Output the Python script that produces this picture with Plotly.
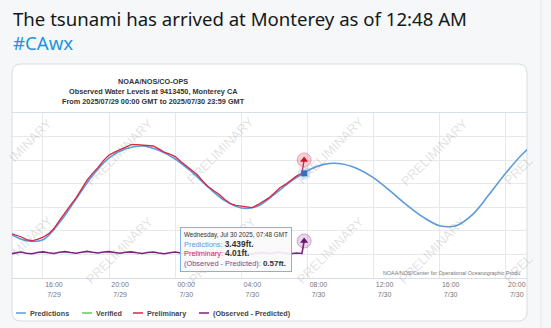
import plotly.graph_objects as go
import pandas as pd

# ---------------- data ----------------
pred_times = pd.date_range("2025-07-29 14:00", "2025-07-30 23:00", freq="1h")
pred_ft = [0.88, 0.58, 0.62, 1.35, 2.35, 3.35, 4.10, 4.48, 4.60, 4.42, 4.05, 3.50,
           2.85, 2.28, 1.97, 2.05, 2.55, 3.10, 3.55, 3.82, 3.85, 3.65, 3.25, 2.70,
           2.10, 1.58, 1.22, 1.22, 1.70, 2.55, 3.45, 4.25, 4.85, 5.20]

obs_times = pd.date_range("2025-07-29 14:00", periods=54, freq="20min").append(
    pd.DatetimeIndex(["2025-07-30 07:48"]))
prelim_ft = [0.90, 0.82, 0.75, 0.63, 0.58, 0.64, 0.73, 0.87, 1.10, 1.44, 1.79, 2.09,
             2.40, 2.78, 3.15, 3.44, 3.69, 3.99, 4.22, 4.34, 4.44, 4.57, 4.66, 4.66,
             4.64, 4.64, 4.60, 4.48, 4.34, 4.26, 4.15, 3.94, 3.74, 3.58, 3.38, 3.11,
             2.87, 2.70, 2.54, 2.33, 2.16, 2.08, 2.05, 1.99, 1.99, 2.11, 2.27, 2.40,
             2.61, 2.83, 2.97, 3.13, 3.32, 3.44, 4.01]
resid_ft = [0.02, 0.06, 0.10, 0.05, 0.03, 0.08, 0.11, 0.07, 0.04, 0.09, 0.12, 0.08,
            0.05, 0.09, 0.13, 0.09, 0.06, 0.10, 0.12, 0.08, 0.05, 0.09, 0.11, 0.07,
            0.04, 0.08, 0.10, 0.06, 0.03, 0.07, 0.10, 0.06, 0.04, 0.08, 0.10, 0.05,
            0.02, 0.06, 0.09, 0.05, 0.02, 0.05, 0.08, 0.04, 0.02, 0.06, 0.08, 0.04,
            0.06, 0.09, 0.05, 0.03, 0.06, 0.04, 0.57]

hover_time = "2025-07-30 07:48"
hover_pred = 3.439

tick_vals = ["2025-07-29 16:00", "2025-07-29 20:00", "2025-07-30 00:00", "2025-07-30 04:00",
             "2025-07-30 08:00", "2025-07-30 12:00", "2025-07-30 16:00", "2025-07-30 20:00"]
tick_text = ["16:00<br>7/29", "20:00<br>7/29", "00:00<br>7/30", "04:00<br>7/30",
             "08:00<br>7/30", "12:00<br>7/30", "16:00<br>7/30", "20:00<br>7/30"]

series_names = ["Predictions", "Verified", "Preliminary", "(Observed - Predicted)"]
series_colors = ["#5b9bd9", "#5ccf5c", "#d9243f", "#7d2181"]

# ---------------- layout helpers ----------------
W, H = 551, 328
ML, MR, MT, MB = 12, 24, 113, 50
PW, PH = W - ML - MR, H - MT - MB


def px(x):
    return (x - ML) / PW


def py(y):
    return 1 - (y - MT) / PH


fig = go.Figure()

# traces
fig.add_trace(go.Scatter(x=pred_times, y=pred_ft, mode="lines", name=series_names[0],
                         line=dict(color=series_colors[0], width=1.6, shape="spline", smoothing=1.0)))
fig.add_trace(go.Scatter(x=obs_times, y=resid_ft, mode="lines", name=series_names[3],
                         line=dict(color=series_colors[3], width=1.6)))
fig.add_trace(go.Scatter(x=obs_times, y=prelim_ft, mode="lines", name=series_names[2],
                         line=dict(color=series_colors[2], width=1.3)))

# hover halos + markers
fig.add_trace(go.Scatter(x=[hover_time], y=[hover_pred], mode="markers",
                         marker=dict(size=13, color="rgba(91,155,217,0.22)"), showlegend=False))
fig.add_trace(go.Scatter(x=[hover_time], y=[prelim_ft[-1]], mode="markers",
                         marker=dict(size=14, color="rgba(217,36,63,0.22)",
                                     line=dict(color="rgba(217,36,63,0.35)", width=1)), showlegend=False))
fig.add_trace(go.Scatter(x=[hover_time], y=[resid_ft[-1]], mode="markers",
                         marker=dict(size=14, color="rgba(125,33,129,0.18)",
                                     line=dict(color="rgba(125,33,129,0.35)", width=1)), showlegend=False))
fig.add_trace(go.Scatter(x=[hover_time], y=[hover_pred], mode="markers",
                         marker=dict(size=6, symbol="square", color="#2f6fc4"), showlegend=False))
fig.add_trace(go.Scatter(x=[hover_time], y=[prelim_ft[-1]], mode="markers",
                         marker=dict(size=7, symbol="triangle-up", color="#c4152f"), showlegend=False))
fig.add_trace(go.Scatter(x=[hover_time], y=[resid_ft[-1]], mode="markers",
                         marker=dict(size=7, symbol="triangle-up", color="#6a1470"), showlegend=False))

shapes = []
# card
x0, y0, x1, y1, r = 12, 64, 527, 321, 9
path = (f"M {px(x0+r)},{py(y0)} L {px(x1-r)},{py(y0)} Q {px(x1)},{py(y0)} {px(x1)},{py(y0+r)} "
        f"L {px(x1)},{py(y1-r)} Q {px(x1)},{py(y1)} {px(x1-r)},{py(y1)} "
        f"L {px(x0+r)},{py(y1)} Q {px(x0)},{py(y1)} {px(x0)},{py(y1-r)} "
        f"L {px(x0)},{py(y0+r)} Q {px(x0)},{py(y0)} {px(x0+r)},{py(y0)} Z")
shapes.append(dict(type="path", path=path, xref="paper", yref="paper", layer="below",
                   fillcolor="white", line=dict(color="#d6dde3", width=1)))
# right divider of the page
shapes.append(dict(type="line", xref="paper", yref="paper", x0=px(541), x1=px(541), y0=py(0), y1=py(328),
                   line=dict(color="#e3e7ea", width=1), layer="below"))

annotations = []
# watermark
wm_font = dict(family="Liberation Sans", size=13, color="rgba(120,120,120,0.22)")
wm = [("IMINARY", 30, 140), ("PRELIMINARY", 119, 152), ("PRELIMINARY", 220, 150),
      ("PRELIMINARY", 330, 150), ("PRELIMINARY", 434, 152), ("PREL", 518, 170),
      ("MINARY", 32, 236), ("PRELIMINARY", 119, 250), ("PRELIMINARY", 222, 250),
      ("PRELIMINARY", 330, 250), ("PRELIMINARY", 432, 250), ("PREL", 518, 268)]
for t, x, y in wm:
    annotations.append(dict(text=t, x=px(x), y=py(y), xref="paper", yref="paper", showarrow=False,
                            textangle=-45, font=wm_font, xanchor="center", yanchor="middle"))

# tweet text
annotations.append(dict(text="The tsunami has arrived at Monterey as of 12:48 AM", x=px(11), y=py(18),
                        xref="paper", yref="paper", showarrow=False, xanchor="left", yanchor="middle",
                        font=dict(family="Noto Sans", size=18.6, color="#14171a")))
annotations.append(dict(text="#CAwx", x=px(11), y=py(43), xref="paper", yref="paper", showarrow=False,
                        xanchor="left", yanchor="middle",
                        font=dict(family="Noto Sans", size=18.6, color="#1b95e0")))

# chart title
title_lines = ["NOAA/NOS/CO-OPS", "Observed Water Levels at 9413450, Monterey CA",
               "From 2025/07/29 00:00 GMT to 2025/07/30 23:59 GMT"]
for i, t in enumerate(title_lines):
    annotations.append(dict(text=f"<b>{t}</b>", x=px(153), y=py(81 + 10 * i), xref="paper", yref="paper",
                            showarrow=False, xanchor="center", yanchor="middle",
                            font=dict(family="Liberation Sans", size=7.3, color="#333333")))

# credits
annotations.append(dict(text="NOAA/NOS/Center for Operational Oceanographic Produ", x=px(381), y=py(273),
                        xref="paper", yref="paper", showarrow=False, xanchor="left", yanchor="middle",
                        font=dict(family="Liberation Sans", size=5.4, color="#777777")))

# tooltip
tip = ('<span style="font-size:6.3px;color:#333">Wednesday, Jul 30 2025, 07:48 GMT</span><br>'
       f'<span style="color:{series_colors[0]}">Predictions:</span> <b><span style="font-size:8.4px">{hover_pred}ft.</span></b><br>'
       f'<span style="color:{series_colors[2]}">Preliminary:</span> <b><span style="font-size:8.4px">{prelim_ft[-1]}ft.</span></b><br>'
       f'<span style="color:#8b3c99">(Observed - Predicted):</span> <b><span style="font-size:8px">{resid_ft[-1]}ft.</span></b>')
annotations.append(dict(text=tip, x=px(180), y=py(227), xref="paper", yref="paper", showarrow=False,
                        xanchor="left", yanchor="top", align="left", borderpad=3,
                        bgcolor="rgba(250,250,250,0.9)", bordercolor="#7cb5ec", borderwidth=1,
                        font=dict(family="Liberation Sans", size=7.4, color="#333333")))

# legend
leg = [(16, 28), (82, 94), (133, 145), (199, 211)]
for (lx, tx), name, col in zip(leg, series_names, series_colors):
    shapes.append(dict(type="line", xref="paper", yref="paper", x0=px(lx), x1=px(lx + 10),
                       y0=py(313), y1=py(313), line=dict(color=col, width=1.5)))
    annotations.append(dict(text=f"<b>{name}</b>", x=px(tx), y=py(313), xref="paper", yref="paper",
                            showarrow=False, xanchor="left", yanchor="middle",
                            font=dict(family="Liberation Sans", size=7.2, color="#444444")))

fig.update_layout(
    width=W, height=H, margin=dict(l=ML, r=MR, t=MT, b=MB),
    paper_bgcolor="#f5f7f8", plot_bgcolor="white", showlegend=False,
    shapes=shapes, annotations=annotations,
    xaxis=dict(type="date", range=["2025-07-29 14:07:30", "2025-07-30 21:17:00"],
               tickvals=tick_vals, ticktext=tick_text, showgrid=True, gridcolor="#e8e8e8",
               showline=True, linecolor="#d8dee6", mirror=True, zeroline=False, ticks="",
               ticklabelshift=11, tickfont=dict(family="Liberation Sans", size=7, color="#777777")),
    yaxis=dict(range=[-1, 6], dtick=1, showgrid=True, gridcolor="#e8e8e8", zeroline=False,
               showticklabels=False, ticks=""),
)

fig.write_html("out.html")
